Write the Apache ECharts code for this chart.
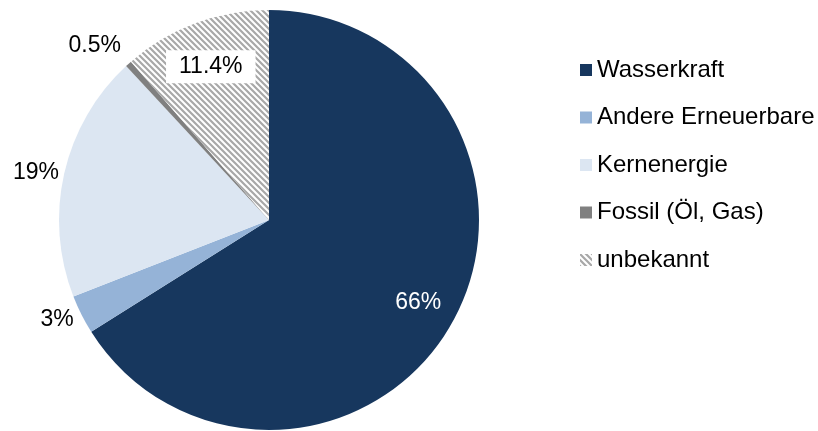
<!DOCTYPE html>
<html>
<head>
<meta charset="utf-8">
<script src="https://cdn.jsdelivr.net/npm/echarts@6/dist/echarts.min.js"></script>
<style>
  html, body { margin: 0; padding: 0; background: #fff; }
  #chart { width: 818px; height: 431px; }
</style>
</head>
<body>
<div id="chart"></div>
<script>
// Strommix: Anteile nach Energieträger (in %)
const categories = ['Wasserkraft', 'Andere Erneuerbare', 'Kernenergie', 'Fossil (Öl, Gas)', 'unbekannt'];
const shares = [66, 3, 19, 0.5, 11.4];
const shareLabels = ['66%', '3%', '19%', '0.5%', '11.4%'];

const FONT = '"Liberation Sans", Arial, sans-serif';
const CX = 269, CY = 220, R = 210;

// diagonal hatch tile for the "unbekannt" slice
function hatchPattern() {
  const c = document.createElement('canvas');
  c.width = 6; c.height = 6;
  const g = c.getContext('2d');
  g.fillStyle = '#ffffff';
  g.fillRect(0, 0, 6, 6);
  g.strokeStyle = '#a8a8a8';
  g.lineWidth = 2.2;
  g.beginPath();
  g.moveTo(-2, -2); g.lineTo(8, 8);
  g.moveTo(4, -2); g.lineTo(8, 2);
  g.moveTo(-2, 4); g.lineTo(2, 8);
  g.stroke();
  return { image: c, repeat: 'repeat' };
}

const colors = ['#17375e', '#95b3d7', '#dce6f2', '#808080', hatchPattern()];
const insideLabel = [true, false, false, false, true];
// small hand adjustments of the label anchors (px)
const labelNudge = [[4, 2], [-2, -6], [1, 6], [-13, 5], [0, 2]];

// mid angle of each slice, clockwise from 12 o'clock
const total = shares.reduce((a, b) => a + b, 0);
const midAngles = [];
let acc = 0;
shares.forEach(v => {
  const a = v / total * Math.PI * 2;
  midAngles.push(acc + a / 2);
  acc += a;
});

const data = categories.map((name, i) => {
  const item = {
    name: name,
    value: shares[i],
    itemStyle: { color: colors[i] },
    label: { color: i === 0 ? '#ffffff' : '#000000' }
  };
  if (i === 4) {
    item.label.backgroundColor = '#ffffff';
    item.label.padding = [5, 13];
  }
  return item;
});

const chart = echarts.init(document.getElementById('chart'), null, { renderer: 'canvas' });
chart.setOption({
  animation: false,
  backgroundColor: '#ffffff',
  legend: {
    orient: 'vertical',
    left: 580,
    top: 57,
    padding: 0,
    itemWidth: 12,
    itemHeight: 12,
    itemGap: 21.5,
    icon: 'rect',
    selectedMode: false,
    textStyle: { fontFamily: FONT, fontSize: 24, lineHeight: 26, color: '#000000' },
    data: categories
  },
  series: [{
    type: 'pie',
    center: [CX, CY],
    radius: R,
    startAngle: 90,
    clockwise: true,
    avoidLabelOverlap: false,
    silent: true,
    label: {
      show: true,
      position: 'inside',
      fontFamily: FONT,
      fontSize: 23,
      formatter: p => shareLabels[p.dataIndex]
    },
    labelLine: { show: false },
    labelLayout: function (params) {
      const i = params.dataIndex;
      const th = midAngles[i];
      const dx = Math.sin(th), dy = -Math.cos(th);
      const w = params.labelRect.width / 2, h = params.labelRect.height / 2;
      const d = insideLabel[i] ? R * 0.79 : R + 5 + Math.abs(dx) * w + Math.abs(dy) * h;
      return {
        x: CX + dx * d + labelNudge[i][0],
        y: CY + dy * d + labelNudge[i][1],
        align: 'center',
        verticalAlign: 'middle'
      };
    },
    data: data
  }]
});
</script>
</body>
</html>
